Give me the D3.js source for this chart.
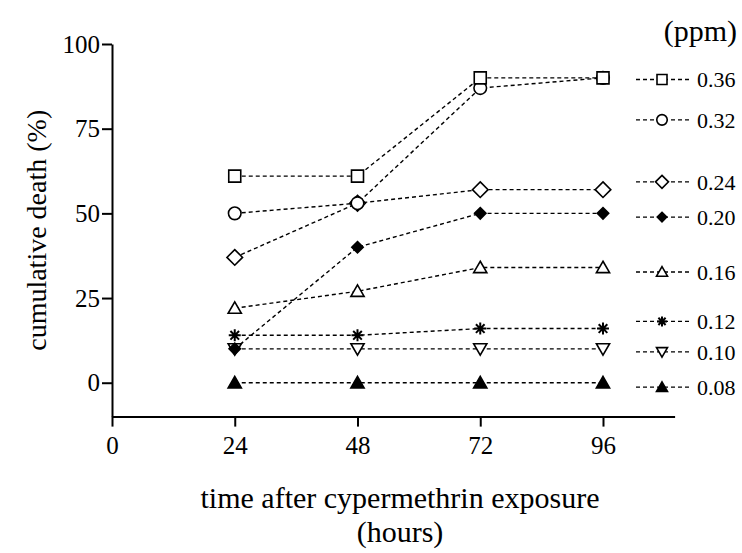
<!DOCTYPE html>
<html>
<head>
<meta charset="utf-8">
<script src="https://cdn.jsdelivr.net/npm/d3@7"></script>
<style>
  body { margin: 0; background: #fff; }
  svg text { font-family: "Liberation Serif", "DejaVu Serif", serif; fill: #000; }
</style>
</head>
<body>
<div id="chart"></div>
<script>
// hours after exposure
const hours = [24, 48, 72, 96];

// cumulative death (%) for each concentration (ppm)
const conc = ["0.36", "0.32", "0.24", "0.20", "0.16", "0.12", "0.10", "0.08"];
const d036 = [61, 61, 90, 90];
const d032 = [50, 53, 87, 90];
const d024 = [37, 53, 57, 57];
const d020 = [10, 40, 50, 50];
const d016 = [22, 27, 34, 34];
const d012 = [14, 14, 16, 16];
const d010 = [10, 10, 10, 10];
const d008 = [0, 0, 0, 0];

// where each legend row sits, in y units
const legendLevel = [89.5, 77.6, 59.3, 48.9, 32.7, 18.1, 9.1, -1.3];

const xTicks = [0, 24, 48, 72, 96];
const yTicks = [0, 25, 50, 75, 100];

const values = [d036, d032, d024, d020, d016, d012, d010, d008];
const shapes = ["square", "circle", "diamond", "fdiamond", "triangle", "asterisk", "tridown", "ftriangle"];

const W = 742, H = 553;
const serif = '"Liberation Serif", "DejaVu Serif", serif';

const svg = d3.select("#chart").append("svg")
    .attr("width", W)
    .attr("height", H);

const x = d3.scaleLinear().domain([0, 110]).range([112, 674.6]);
const y = d3.scaleLinear().domain([-10, 100]).range([416.6, 44]);

// marker paths, centred on 0,0
function marker(kind, s) {
    const h = s / 2;
    switch (kind) {
        case "square": return `M${-h},${-h}H${h}V${h}H${-h}Z`;
        case "circle": return d3.symbol(d3.symbolCircle, Math.PI * h * h * 1.1)();
        case "diamond": { const d = h * 1.3; return `M0,${-d}L${d},0L0,${d}L${-d},0Z`; }
        case "fdiamond": { const d = h * 0.95; return `M0,${-d}L${d},0L0,${d}L${-d},0Z`; }
        case "triangle":
        case "ftriangle": return `M0,${-h * 1.05}L${h * 1.1},${h * 0.85}L${-h * 1.1},${h * 0.85}Z`;
        case "tridown": return `M0,${h * 1.05}L${h * 1.1},${-h * 0.85}L${-h * 1.1},${-h * 0.85}Z`;
        case "asterisk": {
            const a = h, b = h * 0.72;
            return `M${-a},0H${a}M0,${-a}V${a}M${-b},${-b}L${b},${b}M${-b},${b}L${b},${-b}`;
        }
    }
}
function fillOf(kind) {
    if (kind === "asterisk") return "none";
    return (kind === "fdiamond" || kind === "ftriangle") ? "#000" : "#fff";
}

// axes
const yAxis = svg.append("g")
    .attr("transform", `translate(${x(0)},0)`)
    .call(d3.axisLeft(y).tickValues(yTicks).tickSize(10).tickSizeOuter(0).tickPadding(2));
const xAxis = svg.append("g")
    .attr("transform", `translate(0,${y(-10)})`)
    .call(d3.axisBottom(x).tickValues(xTicks).tickSize(10).tickSizeOuter(0).tickPadding(6));

[yAxis, xAxis].forEach(g => {
    g.attr("font-family", null);
    g.select(".domain").attr("stroke", "#000").attr("stroke-width", 2);
    g.selectAll(".tick line").attr("stroke", "#000").attr("stroke-width", 2);
    g.selectAll(".tick text")
        .style("font-family", serif)
        .style("font-size", "25px")
        .attr("fill", "#000");
});
xAxis.selectAll(".tick text").attr("dy", "0.85em");

// series lines
const line = d3.line()
    .x((d, i) => x(hours[i]))
    .y(d => y(d));

const series = svg.append("g");
values.forEach(vals => {
    series.append("path")
        .datum(vals)
        .attr("fill", "none")
        .attr("stroke", "#000")
        .attr("stroke-width", 1.4)
        .attr("stroke-dasharray", "4,3")
        .attr("d", line);
});
// markers drawn last-to-first so the upper series sit on top
for (let k = values.length - 1; k >= 0; k--) {
    const kind = shapes[k];
    series.selectAll(null)
        .data(values[k])
        .enter().append("path")
        .attr("transform", (d, i) => `translate(${x(hours[i])},${y(d)})`)
        .attr("d", marker(kind, 12))
        .attr("fill", fillOf(kind))
        .attr("stroke", "#000")
        .attr("stroke-width", kind === "asterisk" ? 2 : 1.6);
}

// legend
const legend = svg.append("g");
conc.forEach((c, k) => {
    const ly = y(legendLevel[k]);
    const kind = shapes[k];
    legend.append("line")
        .attr("x1", 636).attr("x2", 692)
        .attr("y1", ly).attr("y2", ly)
        .attr("stroke", "#000")
        .attr("stroke-width", 1.4)
        .attr("stroke-dasharray", "4,3");
    legend.append("path")
        .attr("transform", `translate(662,${ly})`)
        .attr("d", marker(kind, 10))
        .attr("fill", fillOf(kind))
        .attr("stroke", "#000")
        .attr("stroke-width", kind === "asterisk" ? 2 : 1.6);
    legend.append("text")
        .attr("x", 697)
        .attr("y", ly)
        .attr("dy", "0.35em")
        .style("font-size", "22px")
        .text(c);
});

svg.append("text")
    .attr("x", 737)
    .attr("y", 41)
    .attr("text-anchor", "end")
    .style("font-size", "30px")
    .text("(ppm)");

// axis titles
svg.append("text")
    .attr("transform", `translate(46,${y(45)}) rotate(-90)`)
    .attr("text-anchor", "middle")
    .style("font-size", "28px")
    .text("cumulative death (%)");

svg.append("text")
    .attr("x", 400)
    .attr("y", 508)
    .attr("text-anchor", "middle")
    .style("font-size", "30px")
    .text("time after cypermethrin exposure");
svg.append("text")
    .attr("x", 400)
    .attr("y", 542)
    .attr("text-anchor", "middle")
    .style("font-size", "30px")
    .text("(hours)");
</script>
</body>
</html>
